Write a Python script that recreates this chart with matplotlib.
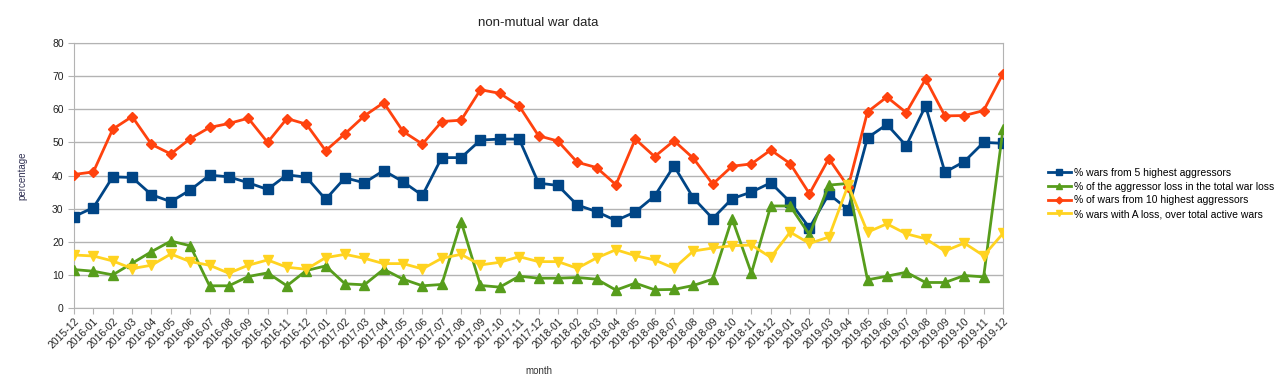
import matplotlib
matplotlib.use('Agg')
import matplotlib.pyplot as plt

plt.rcParams['font.family'] = ['Liberation Sans', 'DejaVu Sans']

months = ['2015-12',
          '2016-01', '2016-02', '2016-03', '2016-04', '2016-05', '2016-06',
          '2016-07', '2016-08', '2016-09', '2016-10', '2016-11', '2016-12',
          '2017-01', '2017-02', '2017-03', '2017-04', '2017-05', '2017-06',
          '2017-07', '2017-08', '2017-09', '2017-10', '2017-11', '2017-12',
          '2018-01', '2018-02', '2018-03', '2018-04', '2018-05', '2018-06',
          '2018-07', '2018-08', '2018-09', '2018-10', '2018-11', '2018-12',
          '2019-01', '2019-02', '2019-03', '2019-04', '2019-05', '2019-06',
          '2019-07', '2019-08', '2019-09', '2019-10', '2019-11', '2019-12']

top5 = [27.6, 30.3, 39.6, 39.4, 34.2, 32.1, 35.6, 40.1, 39.6, 37.8, 35.8, 40.2, 39.5,
        32.8, 39.3, 37.8, 41.5, 38.1, 34.0, 45.4, 45.4, 50.7, 51.0, 51.0, 37.7,
        37.0, 31.1, 29.1, 26.4, 29.0, 33.8, 42.9, 33.2, 27.0, 33.0, 35.0, 37.8,
        32.0, 24.2, 34.4, 29.7, 51.4, 55.4, 49.0, 61.0, 41.0, 44.2, 50.0, 49.7]

aggr_loss = [11.6, 11.1, 10.0, 13.5, 17.0, 20.2, 18.8, 6.7, 6.7, 9.5, 10.6, 6.7, 11.3,
             12.7, 7.3, 7.0, 11.7, 8.7, 6.7, 7.1, 26.1, 6.8, 6.3, 9.6, 9.0,
             9.0, 9.2, 8.7, 5.4, 7.5, 5.5, 5.6, 6.8, 8.7, 27.0, 10.5, 30.8,
             30.8, 22.1, 37.1, 37.6, 8.5, 9.6, 10.8, 7.7, 7.7, 9.8, 9.4, 54.0]

top10 = [40.3, 41.1, 54.0, 57.8, 49.4, 46.5, 51.1, 54.5, 55.7, 57.3, 50.0, 57.2, 55.5,
         47.5, 52.6, 58.0, 62.0, 53.3, 49.5, 56.3, 56.7, 65.9, 64.8, 61.0, 52.0,
         50.4, 44.0, 42.4, 37.2, 51.0, 45.7, 50.5, 45.2, 37.4, 42.8, 43.5, 47.7,
         43.6, 34.5, 45.1, 36.6, 59.2, 63.7, 59.0, 69.1, 58.0, 58.1, 59.6, 70.7]

a_loss = [16.0, 15.7, 14.2, 11.9, 12.9, 16.3, 14.0, 12.9, 10.5, 12.9, 14.5, 12.3, 11.7,
          15.2, 16.2, 15.0, 13.4, 13.4, 11.8, 15.0, 16.2, 13.0, 13.8, 15.5, 14.0,
          14.0, 12.0, 15.1, 17.6, 15.8, 14.5, 12.0, 17.2, 18.1, 18.8, 19.0, 15.3,
          22.9, 19.5, 21.4, 37.1, 22.9, 25.4, 22.4, 20.9, 17.2, 19.6, 15.8, 22.5]

fig = plt.figure(figsize=(12.79, 3.91), dpi=100)
ax = fig.add_axes([0.0579, 0.2123, 0.7263, 0.6777])

x = range(len(months))
ax.plot(x, top5, color='#004586', marker='s', markersize=7, linewidth=2,
        label='% wars from 5 highest aggressors', zorder=3)
ax.plot(x, aggr_loss, color='#579d1c', marker='^', markersize=7, linewidth=2,
        label='% of the aggressor loss in the total war loss', zorder=3)
ax.plot(x, top10, color='#ff420e', marker='D', markersize=5, linewidth=2,
        label='% of wars from 10 highest aggressors', zorder=3)
ax.plot(x, a_loss, color='#ffd320', marker='v', markersize=7, linewidth=2,
        label='% wars with A loss, over total active wars', zorder=3)

ax.set_xlim(0, len(months) - 1)
ax.set_ylim(0, 80)
ax.set_yticks(range(0, 81, 10))
ax.set_xticks(list(x))
ax.set_xticklabels(months, rotation=45, ha='right', rotation_mode='anchor')
ax.tick_params(axis='both', labelsize=7.5, color='#b3b3b3', length=4, labelcolor='#222222')
ax.tick_params(axis='x', pad=2)
ax.grid(axis='y', color='#b3b3b3', linewidth=1)
ax.set_axisbelow(True)
for s in ax.spines.values():
    s.set_color('#b3b3b3')

ax.set_title('non-mutual war data', fontsize=9.5, color='#222222', pad=12)
ax.set_xlabel('month', fontsize=7, color='#333333', labelpad=11)
ax.set_ylabel('percentage', fontsize=7, color='#333355', labelpad=18)

fig.legend(loc='center left', bbox_to_anchor=(0.812, 0.505), frameon=False,
           fontsize=7.5, handlelength=2.2, handletextpad=0.3, labelspacing=0.35,
           markerscale=0.7)

fig.savefig('out.png', dpi=100)
